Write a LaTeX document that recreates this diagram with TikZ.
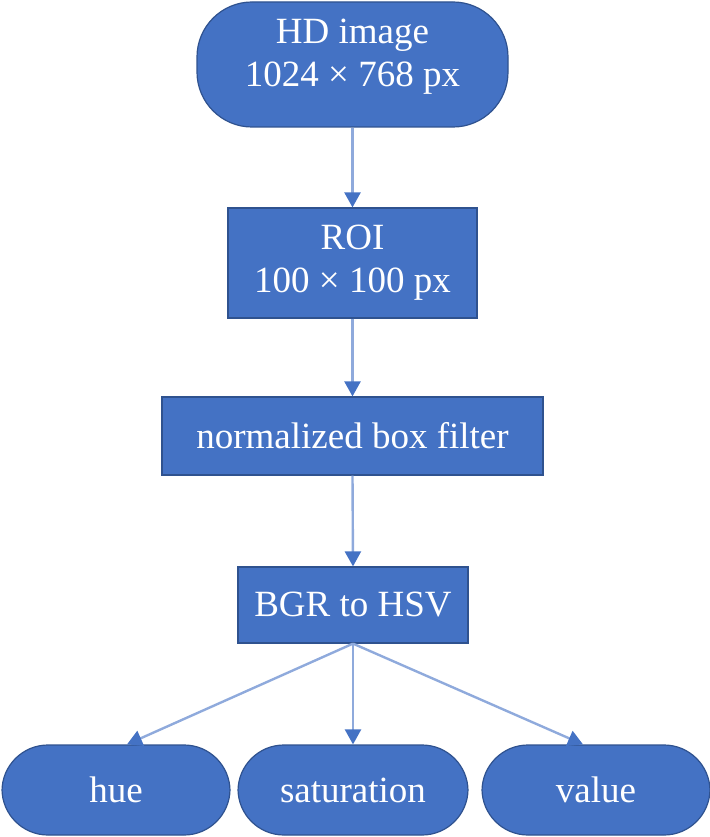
\documentclass[tikz,border=0pt]{standalone}
\usepackage{fontspec}
\setmainfont{Liberation Serif}
\usetikzlibrary{arrows.meta}
\definecolor{boxfill}{HTML}{4472C4}
\definecolor{boxline}{HTML}{2F528F}
\definecolor{arrline}{HTML}{8FAADC}
\begin{document}
\begin{tikzpicture}[x=1pt,y=1pt,
  base/.style={draw=boxline, line width=1.2pt, fill=boxfill, text=white, inner sep=0pt,
    font=\fontsize{37}{43}\selectfont, align=center},
  rectbox/.style={base},
  termbox/.style={base, rounded corners=46pt},
  flow/.style={draw=arrline, line width=2.4pt, -{Triangle[length=15pt, width=16pt, color=boxfill]}}
]
\useasboundingbox (0,0) rectangle (709,-837);
\node[termbox, minimum width=311pt, minimum height=125pt, rounded corners=55pt, text depth=24pt] (hd) at (352.5,-64.5) {HD image\\1024 × 768 px};
\node[rectbox, minimum width=249pt, minimum height=110pt] (roi) at (352.5,-263) {ROI\\100 × 100 px};
\node[rectbox, minimum width=381pt, minimum height=78pt] (nbf) at (352.5,-436) {normalized box filter};
\node[rectbox, minimum width=230pt, minimum height=76pt] (bgr) at (353,-605) {BGR to HSV};
\node[termbox, minimum width=228pt, minimum height=90pt] (hue) at (116,-790) {hue};
\node[termbox, minimum width=230pt, minimum height=90pt] (sat) at (353,-790) {saturation};
\node[termbox, minimum width=228pt, minimum height=90pt] (val) at (596,-790) {value};
\draw[flow] (hd.south) -- (roi.north);
\draw[flow] (roi.south) -- (nbf.north);
\draw[flow] (nbf.south) -- (bgr.north);
\draw[flow] (bgr.south) -- ([xshift=11pt]hue.north);
\draw[flow] (bgr.south) -- (sat.north);
\draw[flow] (bgr.south) -- ([xshift=-13pt]val.north);
\end{tikzpicture}
\end{document}
